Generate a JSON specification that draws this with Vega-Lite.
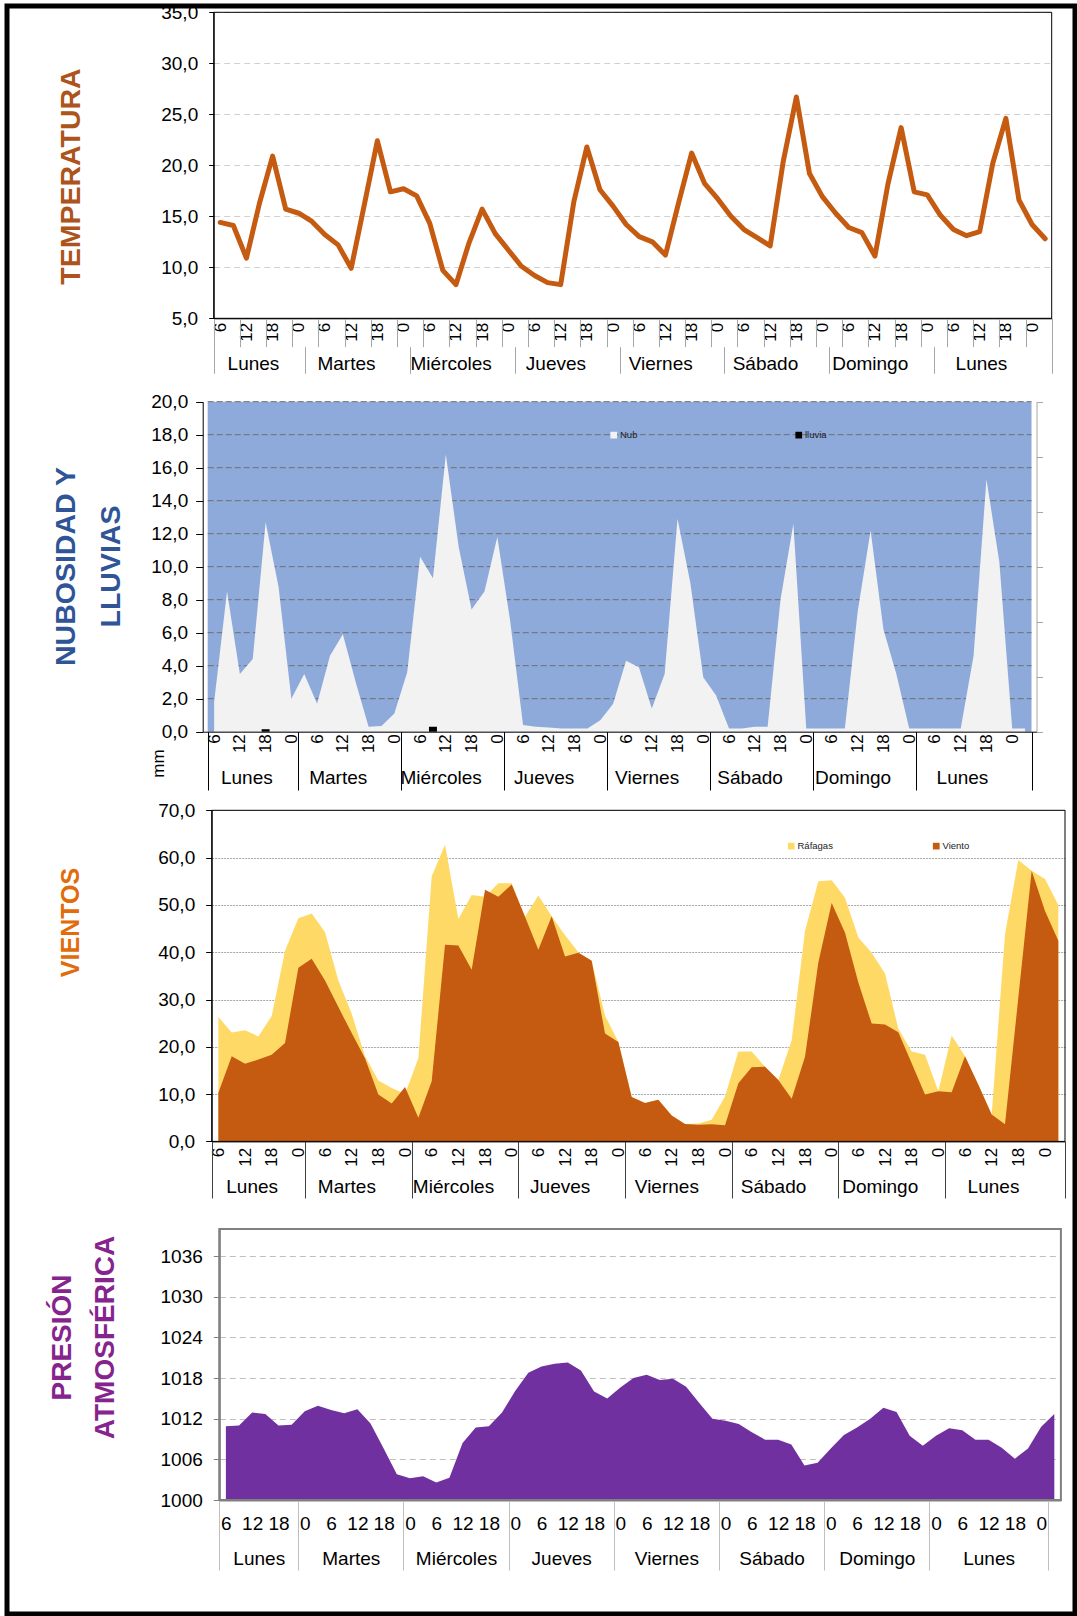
{
  "$schema": "https://vega.github.io/schema/vega-lite/v6.json",
  "width": 1068,
  "height": 1608,
  "autosize": {"type": "none"},
  "padding": {"left": 7, "top": 6, "right": 2, "bottom": 2},
  "config": {
    "view": {"stroke": "#000000", "strokeWidth": 5},
    "font": "Liberation Sans",
    "axis": {"labelFont": "Liberation Sans", "titleFont": "Liberation Sans", "labelColor": "#000000", "tickColor": "#000000", "domainColor": "#000000"},
    "legend": {"labelFont": "Liberation Sans"}
  },
  "datasets": {
    "met": [
      {"i": 0, "dia": "Lunes", "hora": 6, "temp": 14.4, "nub": 1.8, "lluvia": 0, "rafagas": 26.3, "viento": 10.3, "presion": 1010.9},
      {"i": 1, "dia": "Lunes", "hora": 9, "temp": 14.1, "nub": 8.5, "lluvia": 0, "rafagas": 23.0, "viento": 18.0, "presion": 1011.0},
      {"i": 2, "dia": "Lunes", "hora": 12, "temp": 10.9, "nub": 3.5, "lluvia": 0, "rafagas": 23.5, "viento": 16.4, "presion": 1012.9},
      {"i": 3, "dia": "Lunes", "hora": 15, "temp": 16.3, "nub": 4.4, "lluvia": 0, "rafagas": 22.2, "viento": 17.3, "presion": 1012.7},
      {"i": 4, "dia": "Lunes", "hora": 18, "temp": 20.9, "nub": 12.7, "lluvia": 0.15, "rafagas": 26.5, "viento": 18.3, "presion": 1011.0},
      {"i": 5, "dia": "Lunes", "hora": 21, "temp": 15.7, "nub": 8.8, "lluvia": 0, "rafagas": 40.3, "viento": 20.8, "presion": 1011.1},
      {"i": 6, "dia": "Martes", "hora": 0, "temp": 15.3, "nub": 2.0, "lluvia": 0, "rafagas": 47.2, "viento": 36.7, "presion": 1013.1},
      {"i": 7, "dia": "Martes", "hora": 3, "temp": 14.5, "nub": 3.5, "lluvia": 0, "rafagas": 48.2, "viento": 38.6, "presion": 1013.9},
      {"i": 8, "dia": "Martes", "hora": 6, "temp": 13.2, "nub": 1.7, "lluvia": 0, "rafagas": 44.2, "viento": 34.0, "presion": 1013.3},
      {"i": 9, "dia": "Martes", "hora": 9, "temp": 12.2, "nub": 4.6, "lluvia": 0, "rafagas": 34.0, "viento": 28.4, "presion": 1012.8},
      {"i": 10, "dia": "Martes", "hora": 12, "temp": 9.9, "nub": 5.9, "lluvia": 0, "rafagas": 27.0, "viento": 22.9, "presion": 1013.4},
      {"i": 11, "dia": "Martes", "hora": 15, "temp": 16.1, "nub": 3.0, "lluvia": 0, "rafagas": 18.0, "viento": 17.6, "presion": 1011.3},
      {"i": 12, "dia": "Martes", "hora": 18, "temp": 22.4, "nub": 0.3, "lluvia": 0, "rafagas": 12.9, "viento": 9.9, "presion": 1007.6},
      {"i": 13, "dia": "Martes", "hora": 21, "temp": 17.4, "nub": 0.35, "lluvia": 0, "rafagas": 11.3, "viento": 8.0, "presion": 1003.8},
      {"i": 14, "dia": "Miércoles", "hora": 0, "temp": 17.7, "nub": 1.1, "lluvia": 0, "rafagas": 10.0, "viento": 11.5, "presion": 1003.2},
      {"i": 15, "dia": "Miércoles", "hora": 3, "temp": 17.0, "nub": 3.6, "lluvia": 0, "rafagas": 17.6, "viento": 5.0, "presion": 1003.5},
      {"i": 16, "dia": "Miércoles", "hora": 6, "temp": 14.3, "nub": 10.6, "lluvia": 0, "rafagas": 56.0, "viento": 12.7, "presion": 1002.6},
      {"i": 17, "dia": "Miércoles", "hora": 9, "temp": 9.7, "nub": 9.3, "lluvia": 0.3, "rafagas": 62.7, "viento": 41.6, "presion": 1003.3},
      {"i": 18, "dia": "Miércoles", "hora": 12, "temp": 8.3, "nub": 16.8, "lluvia": 0, "rafagas": 47.0, "viento": 41.4, "presion": 1008.4},
      {"i": 19, "dia": "Miércoles", "hora": 15, "temp": 12.4, "nub": 11.2, "lluvia": 0, "rafagas": 52.1, "viento": 36.3, "presion": 1010.7},
      {"i": 20, "dia": "Miércoles", "hora": 18, "temp": 15.7, "nub": 7.4, "lluvia": 0, "rafagas": 51.7, "viento": 53.2, "presion": 1010.9},
      {"i": 21, "dia": "Miércoles", "hora": 21, "temp": 13.3, "nub": 8.5, "lluvia": 0, "rafagas": 54.6, "viento": 51.7, "presion": 1012.9},
      {"i": 22, "dia": "Jueves", "hora": 0, "temp": 11.7, "nub": 11.8, "lluvia": 0, "rafagas": 54.6, "viento": 54.3, "presion": 1016.1},
      {"i": 23, "dia": "Jueves", "hora": 3, "temp": 10.1, "nub": 6.7, "lluvia": 0, "rafagas": 47.5, "viento": 47.5, "presion": 1018.8},
      {"i": 24, "dia": "Jueves", "hora": 6, "temp": 9.2, "nub": 0.4, "lluvia": 0, "rafagas": 52.0, "viento": 40.5, "presion": 1019.7},
      {"i": 25, "dia": "Jueves", "hora": 9, "temp": 8.5, "nub": 0.3, "lluvia": 0, "rafagas": 47.6, "viento": 47.6, "presion": 1020.1},
      {"i": 26, "dia": "Jueves", "hora": 12, "temp": 8.3, "nub": 0.25, "lluvia": 0, "rafagas": 43.6, "viento": 39.1, "presion": 1020.3},
      {"i": 27, "dia": "Jueves", "hora": 15, "temp": 16.4, "nub": 0.2, "lluvia": 0, "rafagas": 40.0, "viento": 39.9, "presion": 1019.1},
      {"i": 28, "dia": "Jueves", "hora": 18, "temp": 21.8, "nub": 0.2, "lluvia": 0, "rafagas": 38.2, "viento": 38.2, "presion": 1016.0},
      {"i": 29, "dia": "Jueves", "hora": 21, "temp": 17.6, "nub": 0.2, "lluvia": 0, "rafagas": 26.6, "viento": 22.8, "presion": 1015.0},
      {"i": 30, "dia": "Viernes", "hora": 0, "temp": 16.0, "nub": 0.7, "lluvia": 0, "rafagas": 21.0, "viento": 21.0, "presion": 1016.6},
      {"i": 31, "dia": "Viernes", "hora": 3, "temp": 14.2, "nub": 1.7, "lluvia": 0, "rafagas": 9.4, "viento": 9.4, "presion": 1018.0},
      {"i": 32, "dia": "Viernes", "hora": 6, "temp": 13.0, "nub": 4.3, "lluvia": 0, "rafagas": 8.1, "viento": 8.1, "presion": 1018.5},
      {"i": 33, "dia": "Viernes", "hora": 9, "temp": 12.5, "nub": 3.9, "lluvia": 0, "rafagas": 8.8, "viento": 8.8, "presion": 1017.7},
      {"i": 34, "dia": "Viernes", "hora": 12, "temp": 11.2, "nub": 1.4, "lluvia": 0, "rafagas": 5.5, "viento": 5.5, "presion": 1017.9},
      {"i": 35, "dia": "Viernes", "hora": 15, "temp": 16.3, "nub": 3.5, "lluvia": 0, "rafagas": 3.7, "viento": 3.7, "presion": 1016.7},
      {"i": 36, "dia": "Viernes", "hora": 18, "temp": 21.2, "nub": 12.9, "lluvia": 0, "rafagas": 3.8, "viento": 3.5, "presion": 1014.3},
      {"i": 37, "dia": "Viernes", "hora": 21, "temp": 18.2, "nub": 9.0, "lluvia": 0, "rafagas": 4.6, "viento": 3.6, "presion": 1012.0},
      {"i": 38, "dia": "Sábado", "hora": 0, "temp": 16.7, "nub": 3.3, "lluvia": 0, "rafagas": 9.5, "viento": 3.4, "presion": 1011.7},
      {"i": 39, "dia": "Sábado", "hora": 3, "temp": 15.0, "nub": 2.2, "lluvia": 0, "rafagas": 19.0, "viento": 12.3, "presion": 1011.2},
      {"i": 40, "dia": "Sábado", "hora": 6, "temp": 13.7, "nub": 0.2, "lluvia": 0, "rafagas": 19.0, "viento": 15.7, "presion": 1010.0},
      {"i": 41, "dia": "Sábado", "hora": 9, "temp": 12.9, "nub": 0.2, "lluvia": 0, "rafagas": 15.8, "viento": 15.8, "presion": 1008.9},
      {"i": 42, "dia": "Sábado", "hora": 12, "temp": 12.1, "nub": 0.3, "lluvia": 0, "rafagas": 13.0, "viento": 13.0, "presion": 1008.9},
      {"i": 43, "dia": "Sábado", "hora": 15, "temp": 20.4, "nub": 0.3, "lluvia": 0, "rafagas": 21.4, "viento": 9.0, "presion": 1008.2},
      {"i": 44, "dia": "Sábado", "hora": 18, "temp": 26.7, "nub": 8.0, "lluvia": 0, "rafagas": 44.5, "viento": 17.9, "presion": 1005.1},
      {"i": 45, "dia": "Sábado", "hora": 21, "temp": 19.2, "nub": 12.6, "lluvia": 0, "rafagas": 55.0, "viento": 37.8, "presion": 1005.5},
      {"i": 46, "dia": "Domingo", "hora": 0, "temp": 16.9, "nub": 0.2, "lluvia": 0, "rafagas": 55.2, "viento": 50.4, "presion": 1007.6},
      {"i": 47, "dia": "Domingo", "hora": 3, "temp": 15.3, "nub": 0.2, "lluvia": 0, "rafagas": 51.5, "viento": 44.1, "presion": 1009.6},
      {"i": 48, "dia": "Domingo", "hora": 6, "temp": 13.9, "nub": 0.2, "lluvia": 0, "rafagas": 43.1, "viento": 33.6, "presion": 1010.7},
      {"i": 49, "dia": "Domingo", "hora": 9, "temp": 13.4, "nub": 0.2, "lluvia": 0, "rafagas": 39.9, "viento": 24.9, "presion": 1012.0},
      {"i": 50, "dia": "Domingo", "hora": 12, "temp": 11.1, "nub": 7.3, "lluvia": 0, "rafagas": 35.5, "viento": 24.7, "presion": 1013.6},
      {"i": 51, "dia": "Domingo", "hora": 15, "temp": 18.2, "nub": 12.2, "lluvia": 0, "rafagas": 23.8, "viento": 23.1, "presion": 1013.0},
      {"i": 52, "dia": "Domingo", "hora": 18, "temp": 23.7, "nub": 6.2, "lluvia": 0, "rafagas": 19.0, "viento": 16.5, "presion": 1009.5},
      {"i": 53, "dia": "Domingo", "hora": 21, "temp": 17.4, "nub": 3.5, "lluvia": 0, "rafagas": 18.3, "viento": 9.9, "presion": 1008.0},
      {"i": 54, "dia": "Lunes", "hora": 0, "temp": 17.1, "nub": 0.2, "lluvia": 0, "rafagas": 10.6, "viento": 10.6, "presion": 1009.5},
      {"i": 55, "dia": "Lunes", "hora": 3, "temp": 15.1, "nub": 0.2, "lluvia": 0, "rafagas": 22.4, "viento": 10.4, "presion": 1010.6},
      {"i": 56, "dia": "Lunes", "hora": 6, "temp": 13.7, "nub": 0.2, "lluvia": 0, "rafagas": 18.0, "viento": 18.0, "presion": 1010.3},
      {"i": 57, "dia": "Lunes", "hora": 9, "temp": 13.1, "nub": 0.2, "lluvia": 0, "rafagas": 12.0, "viento": 12.0, "presion": 1008.9},
      {"i": 58, "dia": "Lunes", "hora": 12, "temp": 13.5, "nub": 0.2, "lluvia": 0, "rafagas": 5.7, "viento": 5.7, "presion": 1008.9},
      {"i": 59, "dia": "Lunes", "hora": 15, "temp": 20.2, "nub": 4.6, "lluvia": 0, "rafagas": 43.8, "viento": 3.6, "presion": 1007.7},
      {"i": 60, "dia": "Lunes", "hora": 18, "temp": 24.6, "nub": 15.3, "lluvia": 0, "rafagas": 59.5, "viento": 30.4, "presion": 1006.1},
      {"i": 61, "dia": "Lunes", "hora": 21, "temp": 16.6, "nub": 10.3, "lluvia": 0, "rafagas": 57.2, "viento": 57.2, "presion": 1007.6},
      {"i": 62, "dia": "Martes", "hora": 0, "temp": 14.2, "nub": 0.2, "lluvia": 0, "rafagas": 55.5, "viento": 48.7, "presion": 1010.8},
      {"i": 63, "dia": "Martes", "hora": 3, "temp": 12.8, "nub": 0.2, "lluvia": 0, "rafagas": 50.0, "viento": 42.4, "presion": 1012.7}
    ]
  },
  "layer": [
    {
      "data": {"name": "met"},
      "layer": [
        {
          "mark": {"type": "line", "color": "#c55a11", "strokeWidth": 5, "strokeJoin": "round", "strokeCap": "round"},
          "encoding": {
            "x": {"field": "i", "type": "quantitative",
              "scale": {"domain": [-0.5, 63.5], "range": [206.7, 1044.7], "nice": false, "zero": false},
              "axis": {"orient": "bottom", "offset": -1295.7, "title": null, "grid": false, "ticks": false, "domain": true, "domainColor": "#000000",
                "values": [0,2,4,6,8,10,12,14,16,18,20,22,24,26,28,30,32,34,36,38,40,42,44,46,48,50,52,54,56,58,60,62],
                "labelExpr": "'' + ((6 + 3 * datum.value) % 24)", "labelAngle": -90, "labelAlign": "right", "labelBaseline": "middle",
                "labelPadding": 4, "labelFontSize": 17, "labelFlush": false, "labelOverlap": false}},
            "y": {"field": "temp", "type": "quantitative",
              "scale": {"domain": [5, 35], "range": [312.3, 6.3], "nice": false, "zero": false},
              "axis": {"orient": "left", "offset": -206.7, "values": [5,10,15,20,25,30,35],
                "labelExpr": "replace(format(datum.value, '.1f'), '.', ',')", "labelFontSize": 19, "labelPadding": 11,
                "tickSize": 5, "grid": true, "gridColor": "#d0d0d0", "gridDash": [6, 4],
                "title": "TEMPERATURA", "titleX": -143.7, "titleY": 170, "titleAngle": -90, "titleAlign": "center", "titleBaseline": "middle",
                "titleFontSize": 28.5, "titleFontWeight": "bold", "titleColor": "#ad541c"}}
          }
        },
        {
          "mark": {"type": "point", "opacity": 0},
          "encoding": {"x": {"field": "i", "type": "quantitative",
            "axis": {"orient": "bottom", "offset": -1295.7, "title": null, "grid": false, "labels": false, "domain": false, "ticks": true, "tickSize": 28.4, "tickColor": "#a6a6a6",
              "values": [-0.5,1.5,3.5,5.5,7.5,9.5,11.5,13.5,15.5,17.5,19.5,21.5,23.5,25.5,27.5,29.5,31.5,33.5,35.5,37.5,39.5,41.5,43.5,45.5,47.5,49.5,51.5,53.5,55.5,57.5,59.5,61.5,63.5]}}}
        },
        {
          "mark": {"type": "point", "opacity": 0},
          "encoding": {"x": {"field": "i", "type": "quantitative",
            "axis": {"orient": "bottom", "offset": -1267.3, "title": null, "grid": false, "labels": false, "domain": false, "ticks": true, "tickSize": 26.6, "tickColor": "#a6a6a6",
              "values": [-0.5, 6.5, 14.5, 22.5, 30.5, 38.5, 46.5, 54.5, 63.5]}}}
        },
        {
          "mark": {"type": "point", "opacity": 0},
          "encoding": {"x": {"field": "i", "type": "quantitative",
            "axis": {"orient": "bottom", "offset": -1295.7, "title": null, "grid": false, "ticks": false, "domain": false,
              "values": [2.5, 9.6, 17.6, 25.6, 33.6, 41.6, 49.6, 58.1],
              "labelExpr": "datum.value < 6 ? 'Lunes' : datum.value < 14 ? 'Martes' : datum.value < 22 ? 'Miércoles' : datum.value < 30 ? 'Jueves' : datum.value < 38 ? 'Viernes' : datum.value < 46 ? 'Sábado' : datum.value < 54 ? 'Domingo' : 'Lunes'",
              "labelAngle": 0, "labelAlign": "center", "labelBaseline": "middle", "labelPadding": 45, "labelFontSize": 19, "labelFlush": false, "labelOverlap": false}}}
        },
        {
          "data": {"values": [{}]},
          "mark": {"type": "rect", "filled": false, "stroke": "#000000", "strokeWidth": 1},
          "encoding": {"x": {"datum": -0.5, "axis": null}, "x2": {"datum": 63.5}, "y": {"datum": 5, "axis": null}, "y2": {"datum": 35}}
        }
      ],
      "resolve": {"axis": {"x": "independent", "y": "independent"}}
    },
    {
      "data": {"name": "met"},
      "layer": [
        {
          "data": {"values": [{}]},
          "mark": {"type": "rect", "fill": "#8eaadb", "stroke": null},
          "encoding": {
            "x": {"datum": -0.5, "axis": null}, "x2": {"datum": 63.5},
            "y": {"datum": 0, "axis": {"orient": "right", "offset": -38.5, "title": null, "labels": false, "grid": false, "tickSize": 6, "tickColor": "#a6a6a6", "domainColor": "#a6a6a6", "zindex": 1,
              "values": [0, 3.3333, 6.6667, 10, 13.3333, 16.6667, 20]}},
            "y2": {"datum": 20}
          }
        },
        {
          "data": {"values": [{"g": 2}, {"g": 4}, {"g": 6}, {"g": 8}, {"g": 10}, {"g": 12}, {"g": 14}, {"g": 16}, {"g": 18}, {"g": 20}]},
          "mark": {"type": "rule", "color": "#6e6e6e", "strokeDash": [6, 3], "strokeWidth": 1},
          "encoding": {
            "x": {"datum": -0.5, "axis": null}, "x2": {"datum": 63.5},
            "y": {"field": "g", "type": "quantitative", "axis": {"orient": "left", "offset": -195.7, "labels": false, "ticks": false, "domain": false, "grid": false,
              "title": "mm", "titleX": -44.7, "titleY": 757, "titleAngle": -90, "titleAlign": "center", "titleBaseline": "middle", "titleFontSize": 17, "titleFontWeight": "normal", "titleColor": "#000000"}}
          }
        },
        {
          "mark": {"type": "area", "opacity": 1},
          "encoding": {
            "x": {"field": "i", "type": "quantitative",
              "scale": {"domain": [-0.5, 63.5], "range": [195.7, 1029.5], "nice": false, "zero": false},
              "axis": {"orient": "bottom", "offset": -882.3, "title": null, "grid": false, "ticks": false, "domain": true, "domainColor": "#000000", "zindex": 1,
                "values": [0,2,4,6,8,10,12,14,16,18,20,22,24,26,28,30,32,34,36,38,40,42,44,46,48,50,52,54,56,58,60,62],
                "labelExpr": "'' + ((6 + 3 * datum.value) % 24)", "labelAngle": -90, "labelAlign": "right", "labelBaseline": "middle",
                "labelPadding": 2, "labelFontSize": 17, "labelFlush": false, "labelOverlap": false}},
            "y": {"field": "nub", "type": "quantitative",
              "scale": {"domain": [0, 20], "range": [725.7, 395.7], "nice": false, "zero": false},
              "axis": {"orient": "left", "offset": -195.7, "values": [0,2,4,6,8,10,12,14,16,18,20], "zindex": 1,
                "labelExpr": "replace(format(datum.value, '.1f'), '.', ',')", "labelFontSize": 19, "labelPadding": 8,
                "tickSize": 7, "grid": false,
                "title": ["NUBOSIDAD Y", "LLUVIAS"], "titleX": -137.4, "titleY": 560, "titleAngle": -90, "titleAlign": "center", "titleBaseline": "middle",
                "titleLineHeight": 45, "titleFontSize": 28.5, "titleFontWeight": "bold", "titleColor": "#2f5597"}},
            "color": {"datum": "Nub",
              "scale": {"domain": ["Nub", "lluvia"], "range": ["#f2f2f2", "#000000"]},
              "legend": {"orient": "none", "legendX": 602, "legendY": 424, "direction": "horizontal", "title": null, "symbolType": "square", "symbolSize": 45,
                "symbolStrokeWidth": 0, "labelFontSize": 9.5, "labelColor": "#222222", "labelOffset": 1.5, "columnPadding": 156, "padding": 0}}
          }
        },
        {
          "mark": {"type": "bar", "width": 8},
          "encoding": {
            "x": {"field": "i", "type": "quantitative", "axis": null},
            "y": {"field": "lluvia", "type": "quantitative", "axis": null},
            "color": {"datum": "lluvia"}
          }
        },
        {
          "mark": {"type": "point", "opacity": 0},
          "encoding": {"x": {"field": "i", "type": "quantitative",
            "axis": {"orient": "bottom", "offset": -882.3, "title": null, "grid": false, "ticks": false, "domain": false,
              "values": [2.5, 9.6, 17.6, 25.6, 33.6, 41.6, 49.6, 58.1],
              "labelExpr": "datum.value < 6 ? 'Lunes' : datum.value < 14 ? 'Martes' : datum.value < 22 ? 'Miércoles' : datum.value < 30 ? 'Jueves' : datum.value < 38 ? 'Viernes' : datum.value < 46 ? 'Sábado' : datum.value < 54 ? 'Domingo' : 'Lunes'",
              "labelAngle": 0, "labelAlign": "center", "labelBaseline": "middle", "labelPadding": 45.3, "labelFontSize": 19, "labelFlush": false, "labelOverlap": false}}}
        },
        {
          "mark": {"type": "point", "opacity": 0},
          "encoding": {"x": {"field": "i", "type": "quantitative",
            "axis": {"orient": "bottom", "offset": -882.3, "title": null, "grid": false, "labels": false, "domain": false, "ticks": true, "tickSize": 58.3, "tickColor": "#000000", "zindex": 1,
              "values": [-0.5, 6.5, 14.5, 22.5, 30.5, 38.5, 46.5, 54.5, 63.5]}}}
        }
      ],
      "resolve": {"axis": {"x": "independent", "y": "independent"}}
    },
    {
      "data": {"name": "met"},
      "layer": [
        {
          "mark": {"type": "area", "opacity": 1},
          "encoding": {
            "x": {"field": "i", "type": "quantitative",
              "scale": {"domain": [-0.5, 63.5], "range": [204.7, 1058], "nice": false, "zero": false},
              "axis": {"orient": "bottom", "offset": -472.6, "title": null, "grid": false, "ticks": false, "domain": true, "domainColor": "#000000",
                "values": [0,2,4,6,8,10,12,14,16,18,20,22,24,26,28,30,32,34,36,38,40,42,44,46,48,50,52,54,56,58,60,62],
                "labelExpr": "'' + ((6 + 3 * datum.value) % 24)", "labelAngle": -90, "labelAlign": "right", "labelBaseline": "middle",
                "labelPadding": 6, "labelFontSize": 17, "labelFlush": false, "labelOverlap": false}},
            "y": {"field": "rafagas", "type": "quantitative",
              "scale": {"domain": [0, 70], "range": [1135.4, 804.3], "nice": false, "zero": false},
              "axis": {"orient": "left", "offset": -204.7, "values": [0,10,20,30,40,50,60,70],
                "labelExpr": "replace(format(datum.value, '.1f'), '.', ',')", "labelFontSize": 19, "labelPadding": 11,
                "tickSize": 6, "grid": true, "gridColor": "#a8a8a8", "gridDash": [2, 1],
                "title": "VIENTOS", "titleX": -141.7, "titleY": 916, "titleAngle": -90, "titleAlign": "center", "titleBaseline": "middle",
                "titleFontSize": 25, "titleFontWeight": "bold", "titleColor": "#e26b0a"}},
            "color": {"datum": "Ráfagas",
              "scale": {"domain": ["Ráfagas", "Viento"], "range": ["#ffd966", "#c55a11"]},
              "legend": {"orient": "none", "legendX": 779.5, "legendY": 835, "direction": "horizontal", "title": null, "symbolType": "square", "symbolSize": 45,
                "symbolStrokeWidth": 0, "labelFontSize": 9.5, "labelColor": "#222222", "labelOffset": 1.5, "columnPadding": 98, "padding": 0}}
          }
        },
        {
          "mark": {"type": "area", "opacity": 1},
          "encoding": {
            "x": {"field": "i", "type": "quantitative", "axis": null},
            "y": {"field": "viento", "type": "quantitative", "axis": null},
            "color": {"datum": "Viento"}
          }
        },
        {
          "mark": {"type": "point", "opacity": 0},
          "encoding": {"x": {"field": "i", "type": "quantitative",
            "axis": {"orient": "bottom", "offset": -472.6, "title": null, "grid": false, "ticks": false, "domain": false,
              "values": [2.5, 9.6, 17.6, 25.6, 33.6, 41.6, 49.6, 58.1],
              "labelExpr": "datum.value < 6 ? 'Lunes' : datum.value < 14 ? 'Martes' : datum.value < 22 ? 'Miércoles' : datum.value < 30 ? 'Jueves' : datum.value < 38 ? 'Viernes' : datum.value < 46 ? 'Sábado' : datum.value < 54 ? 'Domingo' : 'Lunes'",
              "labelAngle": 0, "labelAlign": "center", "labelBaseline": "middle", "labelPadding": 45.3, "labelFontSize": 19, "labelFlush": false, "labelOverlap": false}}}
        },
        {
          "mark": {"type": "point", "opacity": 0},
          "encoding": {"x": {"field": "i", "type": "quantitative",
            "axis": {"orient": "bottom", "offset": -472.6, "title": null, "grid": false, "labels": false, "domain": false, "ticks": true, "tickSize": 56.6, "tickColor": "#404040",
              "values": [-0.5, 6.5, 14.5, 22.5, 30.5, 38.5, 46.5, 54.5, 63.5]}}}
        },
        {
          "data": {"values": [{}]},
          "mark": {"type": "rect", "filled": false, "stroke": "#000000", "strokeWidth": 1},
          "encoding": {"x": {"datum": -0.5, "axis": null}, "x2": {"datum": 63.5}, "y": {"datum": 0, "axis": null}, "y2": {"datum": 70}}
        }
      ],
      "resolve": {"axis": {"x": "independent", "y": "independent"}}
    },
    {
      "data": {"name": "met"},
      "layer": [
        {
          "mark": {"type": "area", "color": "#7030a0", "opacity": 1},
          "encoding": {
            "x": {"field": "i", "type": "quantitative",
              "scale": {"domain": [-0.5, 63.5], "range": [212.3, 1053.9], "nice": false, "zero": false},
              "axis": {"orient": "bottom", "offset": -114, "title": null, "grid": false, "ticks": false, "domain": true, "domainColor": "#808080", "domainWidth": 2,
                "values": [0,2,4,6,8,10,12,14,16,18,20,22,24,26,28,30,32,34,36,38,40,42,44,46,48,50,52,54,56,58,60,62],
                "labelExpr": "'' + ((6 + 3 * datum.value) % 24)", "labelAngle": 0, "labelAlign": "center", "labelBaseline": "middle",
                "labelPadding": 23, "labelFontSize": 19, "labelFlush": false, "labelOverlap": false}},
            "y": {"field": "presion", "type": "quantitative",
              "scale": {"domain": [1000, 1040], "range": [1494, 1223], "nice": false, "zero": false},
              "axis": {"orient": "left", "offset": -212.3, "values": [1000,1006,1012,1018,1024,1030,1036], "format": "d",
                "labelFontSize": 19, "labelPadding": 11, "tickSize": 6, "tickColor": "#808080", "domainColor": "#808080", "domainWidth": 2,
                "grid": true, "gridColor": "#bfbfbf", "gridDash": [6, 4],
                "title": ["PRESIÓN", "ATMOSFÉRICA"], "titleX": -156.6, "titleY": 1331, "titleAngle": -90, "titleAlign": "center", "titleBaseline": "middle",
                "titleLineHeight": 43, "titleFontSize": 28, "titleFontWeight": "bold", "titleColor": "#86248d"}},
            "y2": {"datum": 1000}
          }
        },
        {
          "mark": {"type": "point", "opacity": 0},
          "encoding": {"x": {"field": "i", "type": "quantitative",
            "axis": {"orient": "bottom", "offset": -114, "title": null, "grid": false, "ticks": false, "domain": false,
              "values": [2.5, 9.5, 17.5, 25.5, 33.5, 41.5, 49.5, 58],
              "labelExpr": "datum.value < 6 ? 'Lunes' : datum.value < 14 ? 'Martes' : datum.value < 22 ? 'Miércoles' : datum.value < 30 ? 'Jueves' : datum.value < 38 ? 'Viernes' : datum.value < 46 ? 'Sábado' : datum.value < 54 ? 'Domingo' : 'Lunes'",
              "labelAngle": 0, "labelAlign": "center", "labelBaseline": "middle", "labelPadding": 58, "labelFontSize": 19, "labelFlush": false, "labelOverlap": false}}}
        },
        {
          "mark": {"type": "point", "opacity": 0},
          "encoding": {"x": {"field": "i", "type": "quantitative",
            "axis": {"orient": "bottom", "offset": -114, "title": null, "grid": false, "labels": false, "domain": false, "ticks": true, "tickSize": 70, "tickColor": "#bfbfbf",
              "values": [-0.5, 5.5, 13.5, 21.5, 29.5, 37.5, 45.5, 53.5, 62.5]}}}
        },
        {
          "data": {"values": [{}]},
          "mark": {"type": "rect", "filled": false, "stroke": "#808080", "strokeWidth": 2},
          "encoding": {"x": {"datum": -0.5, "axis": null}, "x2": {"datum": 63.5}, "y": {"datum": 1000, "axis": null}, "y2": {"datum": 1040}}
        }
      ],
      "resolve": {"axis": {"x": "independent", "y": "independent"}}
    }
  ],
  "resolve": {
    "scale": {"x": "independent", "y": "independent", "color": "independent"},
    "axis": {"x": "independent", "y": "independent"},
    "legend": {"color": "independent"}
  }
}
